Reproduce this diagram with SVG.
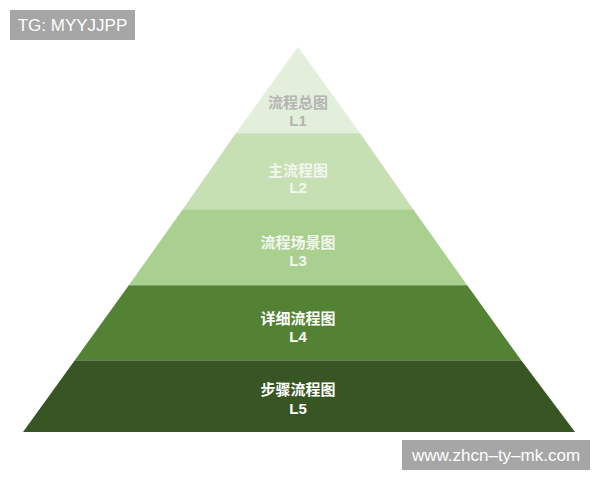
<svg xmlns="http://www.w3.org/2000/svg" width="600" height="480" viewBox="0 0 600 480">
<style>
.t{font-family:"Liberation Sans","Noto Sans CJK SC",sans-serif;font-weight:bold;font-size:15px;text-anchor:middle}
.w{font-family:"Liberation Sans","Noto Sans",sans-serif;fill:#ffffff;text-anchor:middle}
.sep{stroke:#ffffff;stroke-opacity:0.25;stroke-width:1}
</style>
<rect width="600" height="480" fill="#ffffff"/>
<g id="L1">
<polygon points="298,47 236,133 360,133" fill="#e2efda"/>
<text class="t" x="298" y="108" fill="#b4b4b4">流程总图</text>
<text class="t" x="298" y="126" fill="#b4b4b4">L1</text>
</g>
<g id="L2">
<polygon points="236,133 360,133 413,209 183,209" fill="#c6e0b4"/>
<text class="t" x="298" y="176" fill="#f2f7ee">主流程图</text>
<text class="t" x="298" y="193" fill="#f2f7ee">L2</text>
</g>
<g id="L3">
<polygon points="183,209 413,209 467,285 129,285" fill="#a9d08e"/>
<text class="t" x="298" y="248" fill="#f2f7ee">流程场景图</text>
<text class="t" x="298" y="266" fill="#f2f7ee">L3</text>
</g>
<g id="L4">
<polygon points="129,285 467,285 521,360 75,360" fill="#548235"/>
<text class="t" x="298" y="324" fill="#ffffff">详细流程图</text>
<text class="t" x="298" y="342" fill="#ffffff">L4</text>
</g>
<g id="L5">
<polygon points="75,360 521,360 575,432 23,432" fill="#375623"/>
<text class="t" x="298" y="395" fill="#ffffff">步骤流程图</text>
<text class="t" x="298" y="414" fill="#ffffff">L5</text>
</g>
<g id="connectors">
<line class="sep" x1="236" y1="133.5" x2="360" y2="133.5"/>
<line class="sep" x1="183" y1="209.5" x2="413" y2="209.5"/>
<line class="sep" x1="129" y1="285.5" x2="467" y2="285.5"/>
<line class="sep" x1="75" y1="360.5" x2="521" y2="360.5"/>
</g>
<g id="wm1">
<rect x="10" y="10" width="125" height="30" fill="#a6a6a6"/>
<text class="w" x="72.5" y="31" font-size="17">TG: MYYJJPP</text>
</g>
<g id="wm2">
<rect x="402" y="440" width="188" height="30" fill="#a6a6a6"/>
<text class="w" x="496" y="461" font-size="17">www.zhcn–ty–mk.com</text>
</g>
</svg>
